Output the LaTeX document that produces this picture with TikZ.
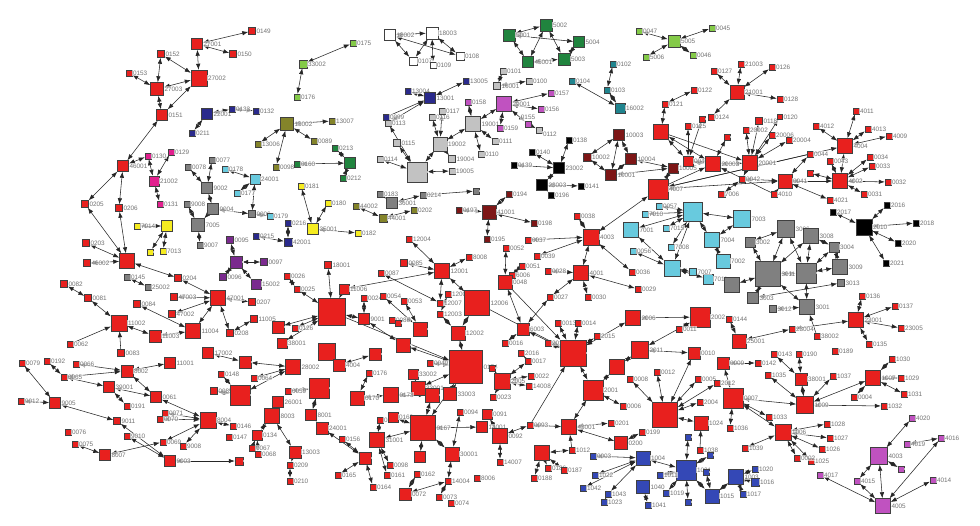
\documentclass[tikz,border=0pt]{standalone}
\usepackage{fontspec}
\setmainfont{Liberation Sans}
\usetikzlibrary{arrows.meta}
\definecolor{rd}{RGB}{232,32,30}
\definecolor{dr}{RGB}{125,22,22}
\definecolor{nv}{RGB}{42,42,140}
\definecolor{bl}{RGB}{52,72,182}
\definecolor{wh}{RGB}{255,255,255}
\definecolor{ol}{RGB}{132,132,42}
\definecolor{dg}{RGB}{32,132,62}
\definecolor{lg}{RGB}{132,202,72}
\definecolor{gy}{RGB}{128,128,128}
\definecolor{lgy}{RGB}{194,194,194}
\definecolor{cy}{RGB}{104,202,222}
\definecolor{yl}{RGB}{246,236,32}
\definecolor{pk}{RGB}{226,32,142}
\definecolor{mg}{RGB}{192,82,192}
\definecolor{pu}{RGB}{122,42,142}
\definecolor{tl}{RGB}{32,132,142}
\definecolor{bk}{RGB}{0,0,0}
\pgfdeclarelayer{bg}
\pgfdeclarelayer{paper}
\pgfsetlayers{paper,bg,main}
\tikzset{
  sq/.style={draw=black!75,line width=0.45pt,inner sep=0pt,minimum size=#1},
  lbl/.style={font=\fontsize{6.4}{7}\selectfont,text=black!55,inner sep=0.6pt,
    fill=white,fill opacity=0.65,text opacity=1},
  bi/.style={line width=0.55pt,black!85,{Latex[length=6pt,width=4.4pt]}-{Latex[length=6pt,width=4.4pt]}},
  one/.style={line width=0.55pt,black!85,-{Latex[length=6pt,width=4.4pt]}},
}
\begin{document}
\begin{tikzpicture}[x=1pt,y=-1pt]
\begin{pgfonlayer}{paper}
\fill[white] (0,0) rectangle (980,525);
\end{pgfonlayer}
\useasboundingbox (0,0) rectangle (980,525);
% ---- nodes: name / x / y / size / colour / label
\foreach \n/\x/\y/\s/\c/\l in {
27001/197/44/11/rd/27001, 0150/233/54/7/rd/0150, 0149/252/31/7/rd/0149,
0152/161/54/7/rd/0152, 27002/199/78/16/rd/27002, 0153/129/73/6/rd/0153,
27003/157/89/13/rd/27003, 0151/162/115/11/rd/0151,
22001/207/114/11/nv/22001, 0133/232/109/6/nv/0133, 0211/192/133/6/nv/0211, 0132/256/111/6/nv/0132,
46001/123/166/11/rd/46001, 0130/148/156/6/pk/0130, 0129/171/152/6/pk/0129,
21002/154/181/10/pk/21002, 0131/160/204/6/pk/0131,
0078/188/167/6/gy/0078, 0077/212/160/6/gy/0077, 0178/225/169/6/cy/0178,
0177/237/193/6/cy/0177, 24001/255/179/10/cy/24001,
9002/207/188/11/gy/9002, 9008/187/204/6/gy/9008, 9004/213/209/11/gy/9004,
7005/198/225/13/gy/7005, 9007/200/245/6/gy/9007, 9006/252/214/7/gy/9006, 0179/270/216/6/cy/0179,
0205/85/204/7/rd/0205, 0206/119/208/7/rd/0206,
7014/137/226/6/yl/7014, y1/167/226/11/yl/, 7013/163/251/6/yl/7013, y2/150/252/6/yl/,
0203/86/243/7/rd/0203, 46002/87/263/7/rd/46002, h1/127/261/15/rd/,
0145/127/277/6/gy/0145, 25002/148/287/6/gy/25002, 0204/178/278/7/rd/0204,
47001/218/298/15/rd/47001, 47003/174/297/7/rd/47003, 0084/137/304/7/rd/0084,
47002/172/314/7/rd/47002, 0082/64/284/7/rd/0082, 0081/88/298/7/rd/0081,
11002/119/323/16/rd/11002, 11003/155/336/12/rd/11003, 11004/193/331/15/rd/11004,
0208/230/333/7/rd/0208, 0062/70/344/6/rd/0062,
0095/230/240/7/pu/0095, 15001/236/262/12/pu/, 0096/223/277/7/pu/0096,
0097/264/262/7/pu/0097, 15002/256/284/10/pu/15002,
0207/252/302/7/rd/0207, 11005/254/319/7/rd/11005,
0175/353/43/6/lg/0175, 33002/303/64/8/lg/33002, 0176/297/97/6/lg/0176,
18002/390/35/11/wh/18002, 18003/432/33/12/wh/18003, 0107/413/61/8/wh/0107,
0109/433/65/6/wh/0109, 0108/460/56/8/wh/0108,
13005/466/81/6/nv/13005, 13004/408/91/6/nv/13004, 13001/430/98/11/nv/13001, 0099/386/117/6/nv/0099,
0113/388/123/6/lgy/0113, 0116/432/117/6/lgy/0116, 0117/442/111/6/lgy/0117,
0158/468/102/6/mg/0158, 19001/473/124/15/lgy/19001,
13002/287/124/13/ol/13002, 13007/332/121/6/ol/13007, 13006/258/144/6/ol/13006,
0089/314/141/6/ol/0089, 0098/276/167/6/ol/0098,
0213/335/148/6/dg/0213, 0160/297/164/6/dg/0160, dg1/350/163/11/dg/, 0212/343/178/6/dg/0212,
0115/397/143/7/lgy/0115, 19002/440/144/14/lgy/19002, 0114/380/159/6/lgy/0114,
19004/452/159/7/lgy/19004, 19005/452/171/6/lgy/19005, 19006/417/172/20/lgy/,
0110/481/154/6/lgy/0110, 0111/495/141/6/lgy/0111,
5001/509/35/12/dg/5001, 5002/546/25/12/dg/5002, 5004/579/42/11/dg/5004,
5003/564/59/12/dg/5003, 45001/528/62/11/dg/45001,
0047/639/31/6/lg/0047, 5005/674/41/12/lg/5005, 0045/712/28/6/lg/0045,
0046/693/55/6/lg/0046, 5006/646/57/6/lg/5006,
0101/503/71/6/lgy/0101, 0100/529/81/6/lgy/0100, 16001/497/86/7/lgy/16001,
0102/613/64/6/tl/0102, 0104/572/81/6/tl/0104, 0103/607/90/6/tl/0103, 16002/620/108/10/tl/16002,
29001/504/104/15/mg/29001, 0157/551/93/6/mg/0157, 0156/541/109/6/mg/0156,
0159/500/128/6/mg/0159,
0138/569/140/6/bk/0138, 0140/532/152/6/bk/0140, 0139/514/165/6/bk/0139, 23002/559/168/11/bk/23002,
10003/619/135/11/dr/10003, 10002/587/157/8/dr/10002, 10004/631/159/11/dr/10004,
10005/673/168/10/dr/10005, 10001/611/175/11/dr/10001,
0127/714/71/6/rd/0127, 0122/694/90/6/rd/0122, 0121/665/104/6/rd/0121, 23006/661/132/15/rd/,
0125/688/126/6/rd/0125, na/702/119/6/rd/, 0124/711/117/6/rd/0124, nb/727/137/6/rd/,
0040/688/161/10/rd/0040, 20003/713/164/15/rd/20003, 20001/750/163/15/rd/20001,
21003/741/64/6/rd/21003, 0126/772/67/6/rd/0126, 21001/737/92/14/rd/21001, 0128/780/99/6/rd/0128,
0118/759/121/7/rd/0118, 0120/780/117/5/rd/0120, 20002/746/130/6/rd/20002,
20006/772/135/6/rd/20006, 20004/789/140/6/rd/20004, 0042/742/179/6/rd/0042,
4011/856/111/6/rd/4011, 4012/816/126/6/rd/4012, 4013/868/129/6/rd/4013, 4009/889/136/6/rd/4009,
0035/845/146/15/rd/4004, 0044/810/154/6/rd/0044, 0034/870/157/6/rd/0034, 0033/872/166/6/rd/0033,
0043/830/161/6/rd/0043, 4002/840/181/15/rd/4002, 4006/810/173/6/rd/,
0041/785/181/14/rd/0041, 0032/888/182/6/rd/0032, 0031/864/194/6/rd/0031,
4021/830/200/6/rd/4021, 4010/774/194/6/rd/4010, nc/722/194/6/rd/,
2017/833/212/6/bk/2017, 2010/864/227/16/bk/2010, 2016/887/205/6/bk/2016,
2018/916/223/6/bk/2018, 2020/898/243/6/bk/2020, 2021/886/263/6/bk/2021,
7003/742/219/17/cy/7003, 7002/723/261/14/cy/7002, 7004/712/240/15/cy/7004, 7011/708/279/10/cy/7011,
3006/786/229/17/gy/3006, 3008/811/236/15/gy/3008, 3002/750/242/10/gy/3002,
3004/834/247/10/gy/3004, 3011/768/274/25/gy/3011, 3007/806/273/20/gy/,
3009/840/267/15/gy/3009, 3005/732/285/15/gy/, 3013/841/283/7/gy/3013,
3003/753/298/11/gy/3003, 3012/773/309/7/gy/3012, 3001/807/307/15/gy/3001,
23001/856/320/15/rd/23001, 0136/862/296/6/rd/0136, 0137/895/306/6/rd/0137,
23005/901/328/6/rd/23005, 0135/869/344/6/rd/0135, 23004/792/329/6/rd/23004,
38002/817/336/6/rd/38002, 0144/729/319/6/rd/0144, 25001/739/341/14/rd/25001,
23003/542/185/11/bk/23003, 0141/581/186/6/bk/0141, 0196/551/195/6/bk/0196,
0194/509/194/6/dr/0194, 41001/489/212/14/dr/41001, 0198/534/223/6/dr/0198,
0195/487/239/6/dr/0195, 0197/459/210/6/dr/0197,
4007/658/189/20/rd/4007, 7006/721/194/6/rd/7006, 0038/577/216/6/rd/0038,
4003/591/237/16/rd/4003, 0037/528/240/6/rd/0037, 0052/506/248/6/rd/0052,
0039/537/256/6/rd/0039, 0051/522/266/6/rd/0051, 6006/512/275/6/rd/6006,
0048/505/282/14/rd/0048, 4001/581/273/15/rd/4001, 0028/548/271/6/rd/0028,
0036/632/272/6/rd/0036, 0029/638/289/6/rd/0029, 0030/588/297/6/rd/0030, 0027/550/297/6/rd/0027,
6003/523/329/12/rd/6003, 0013/558/323/6/rd/0013, 0014/578/323/6/rd/0014,
2006/633/318/15/rd/2006, 2002/700/317/20/rd/2002, 0011/679/329/6/rd/0011,
2015/597/336/6/rd/2015, 2014/548/343/6/rd/2014, 0016/505/343/6/rd/0016,
0057/659/206/6/cy/0057, c7010/645/214/6/cy/7010, 7001/631/230/15/cy/7001,
7000/693/212/19/cy/, c7015/666/228/6/cy/7015, 7008/671/247/6/cy/7008,
7007/693/272/7/cy/7007, 0056/633/251/6/cy/0056, 7009/672/268/16/cy/,
0181/301/186/6/yl/0181, 0180/328/203/6/yl/0180, 35001/313/229/11/yl/35001, 0182/358/233/6/yl/0182,
0216/288/223/6/nv/0216, 42001/288/242/8/nv/42001, 0215/256/236/6/nv/0215,
0183/380/194/6/gy/0183, 36001/392/203/11/gy/36001, 0214/423/195/6/gy/0214, 0184/476/191/6/gy/,
44002/356/206/6/ol/44002, 44001/383/218/8/ol/44001, 0202/414/210/6/ol/0202,
12004/409/239/6/rd/12004, 0085/404/263/7/rd/0085, 12001/442/271/15/rd/12001, 8008/469/257/6/rd/8008,
18001/328/265/7/rd/18001, 0026/287/276/6/rd/0026, 0087/381/273/6/rd/0087,
0025/297/289/6/rd/0025, 0024/364/298/6/rd/0024, 11006/344/289/10/rd/11006,
0054/383/296/6/rd/0054, 0053/404/301/6/rd/0053, 12007/440/303/6/rd/12007,
12005/448/294/6/rd/12005, 12006/477/303/25/rd/12006, 17001/332/312/27/rd/,
r0126/295/328/6/rd/0126, n278/278/327/12/rd/, 38001/282/343/10/rd/38001,
9001/364/319/11/rd/9001, 0086/392/320/6/rd/0086, n398/398/323/6/rd/,
n420/420/329/14/rd/, 12003/440/314/6/rd/12003, 12002/458/333/14/rd/12002, n403/403/345/14/rd/,
0079/22/363/6/rd/0079, 0192/47/361/6/rd/0192, 0066/76/364/6/rd/0066, 0065/64/377/6/rd/0065,
8002/127/371/12/rd/8002, 0083/121/353/7/rd/0083, 11001/170/363/11/rd/11001,
17002/208/353/11/rd/17002, 39001/109/387/11/rd/39001, 0191/127/406/6/rd/0191,
0061/156/397/11/rd/0061, 9012/21/401/6/rd/9012, 9005/55/403/11/rd/9005,
9011/117/421/7/rd/9011, 0071/165/413/6/rd/0071, 0070/160/419/6/rd/0070,
8004/208/420/16/rd/8004, 0148/221/374/6/rd/0148, 0085b/214/391/7/rd/0085, nb240/240/395/20/rd/,
0146/233/426/6/rd/0146, 0147/229/437/6/rd/0147,
0076/68/432/6/rd/0076, 0075/75/444/6/rd/0075, 8007/105/455/11/rd/8007,
9010/127/436/6/rd/9010, 0069/163/442/6/rd/0069, r9008/183/446/6/rd/9008,
9003/170/461/11/rd/9003, n239/239/461/8/rd/,
28002/293/367/15/rd/28002, 0064/254/378/6/rd/0064, n327/327/352/17/rd/,
4004/339/365/12/rd/4004, 31003/375/354/12/rd/, 0049/430/363/6/rd/0049,
r33002/413/374/10/rd/33002, 33001/418/388/14/rd/33001, 0174/466/367/33/rd/0174,
28001/319/388/20/rd/, 0059/288/391/6/rd/0059, r0176/369/373/6/rd/0176,
0170/357/398/14/rd/0170, 0173/391/395/15/rd/0173, 31002/432/395/14/rd/,
33003/450/394/13/rd/33003, 26001/278/402/11/rd/26001, 8003/272/416/15/rd/8003,
8001/311/415/11/rd/8001, r24001/322/428/12/rd/24001,
0169/380/420/6/rd/0169, 0168/393/417/10/rd/0168, 0167/423/428/25/rd/0167, 0094/460/412/6/rd/0094,
31001/377/440/15/rd/31001, r0156/342/439/6/rd/0156, 13003/295/452/12/rd/13003,
0209/290/465/6/rd/0209, 0210/290/481/6/rd/0210, n365/365/458/12/rd/,
30001/452/454/14/rd/30001, r0095/420/457/11/rd/, 14001/482/427/11/rd/14001,
r0098/390/465/6/rd/0098, 0161/387/475/6/rd/0161, 0162/417/474/6/rd/0162,
0165/338/475/6/rd/0165, 0164/373/487/6/rd/0164, 0072/405/494/12/rd/0072,
14004/448/481/6/rd/14004, 14005/439/497/6/rd/0073, 0073/451/503/6/rd/0074, 8006/477/478/6/rd/8006,
n257/257/435/10/rd/0134, 0067/252/448/6/rd/0067, 0068/258/454/6/rd/0068, n245/245/362/12/rd/,
r2016/521/353/6/rd/2016, 0017/528/361/6/rd/0017, 0018/492/368/6/rd/, 2005/502/381/16/rd/2005,
0022/531/376/6/rd/0022, 14008/529/386/6/rd/14008, 0023/493/397/6/rd/0023,
0091/487/414/10/rd/0091, 0092/500/436/15/rd/0092, 14007/500/462/6/rd/14007, 0093/530/425/6/rd/0093,
0001/573/353/26/rd/, 2011/640/350/17/rd/2011, 2013/617/367/15/rd/, 2001/593/390/20/rd/2001,
0006/623/406/6/rd/0006, 0012/657/372/6/rd/0012, 0008/630/379/6/rd/0008,
0010/694/353/12/rd/0010, r0005/698/379/6/rd/0005, 2012/717/383/6/rd/2012,
n665/665/415/25/rd/, 2004/700/402/6/rd/2004,
43001/569/427/15/rd/43001, 0201/611/423/6/rd/0201, 0200/621/443/13/rd/0200, 0199/642/432/6/rd/0199,
37001/572/450/6/rd/1012, 14002/542/453/15/rd/, 0186/548/468/6/rd/0186,
0188/534/478/6/rd/0188, 0187/564/470/6/rd/0187,
1024/701/423/14/rd/1024, 1038/700/450/6/rd/1038,
0003/593/456/6/bl/0003, 1004/643/458/14/bl/1004, 1021/686/470/20/bl/1021,
1022/595/475/6/bl/1022, 1011/660/475/6/bl/1011, 1040/643/487/13/bl/1040,
1042/583/488/6/bl/1042, 1043/608/494/6/bl/1043, 1023/604/502/6/bl/1023,
1041/648/505/6/bl/1041, 1019/666/493/6/bl/1019, 1015/712/496/14/bl/1015,
b1/688/437/6/bl/, b2/710/455/6/bl/, b3/706/472/6/bl/, b4/688/502/6/bl/,
0009/723/363/12/rd/0009, 0143/774/354/6/rd/0143, 0142/758/363/6/rd/0142,
0190/799/354/6/rd/0190, 0189/835/351/6/rd/0189, 1035/768/375/6/rd/1035,
r38001/801/379/12/rd/38001, 1037/833/376/6/rd/1037, 1030/892/359/6/rd/1030,
1007/873/378/15/rd/1007, 1029/901/378/6/rd/1029, 1031/904/394/6/rd/1031,
0007/733/398/20/rd/0007, 1009/805/405/17/rd/1009, 0004/854/397/6/rd/0004,
1032/884/406/6/rd/1032, 1033/769/417/6/rd/1033, 1036/730/428/6/rd/1036,
1006/783/432/16/rd/1006, 1028/827/424/6/rd/1028, 1027/830/438/6/rd/1027,
1026/822/449/6/rd/1026, 1025/811/461/6/rd/1025, 0002/797/458/6/rd/0002, 1039/745/448/6/rd/1039,
4020/912/418/6/mg/4020, 4016/941/438/6/mg/4016, 4019/907/444/6/mg/4019,
p4003/879/456/17/mg/4003, p901/901/469/6/mg/, 4017/820/475/6/mg/4017,
4015/857/481/6/mg/4015, 4014/933/480/6/mg/4014, 4005/883/506/15/mg/4005,
1003/736/477/15/bl/1003, 1020/755/469/6/bl/1020, 1016/755/482/8/bl/1016, 1017/743/494/6/bl/1017}
  \node[sq=\s pt,fill=\c,label={[lbl]0:\l}] (\n) at (\x,\y) {};
% two close neighbours carry their labels on other sides
\node[sq=6pt,fill=mg,label={[lbl]90:0155}] (0155) at (528,124) {};
\node[sq=6pt,fill=lgy,label={[lbl]-20:0112}] (0112) at (539,130) {};
% ---- connectors
\begin{pgfonlayer}{bg}
\foreach \a/\b in {
27001/0150, 27001/0149, 27001/27002, 27002/0152, 27002/27003, 0152/27003, 0153/27003,
27003/0151, 0151/27002, 0151/46001, 22001/0133, 22001/0211, 0133/0132,
46001/0130, 0130/21002, 0129/21002, 21002/0131, 0078/9002, 0077/9002,
0178/24001, 0177/24001, 24001/9006, 9006/0179, 9002/9004, 9008/7005, 9004/7005,
7005/9007, 9004/9006, 7014/y1, y1/7013, y1/y2,
46001/0205, 46001/0206, 0205/h1, 0206/h1, 0203/h1, 46002/h1, h1/0204, 0145/25002,
0204/47001, 47003/47001, 0084/11004, 47002/47001, 0082/0081, 0081/11002,
11002/11003, 11003/11004, 11004/47001, 47001/0208, 0095/15001, 15001/0097,
15001/15002, 0096/15001, 0207/47001, 11005/0208,
0175/33002, 33002/0176,
18002/18003, 18002/0107, 18003/0107, 18003/0109, 18003/0108, 18002/0108,
13005/13001, 13004/13001, 13001/0113,
13002/13007, 13002/13006, 13002/0089, 13002/0098, 0213/dg1, 0160/dg1, dg1/0212,
19006/0115, 19006/19002, 19006/0114, 19006/19005, 19002/0116, 19002/0117,
19002/19004, 19001/0111, 19001/0110, 19001/0158, 0113/19006, 19001/19002,
5001/5002, 5001/45001, 5002/5003, 5002/45001, 5004/5003, 5004/5001, 45001/5003,
0047/5005, 0045/5005, 5005/0046, 5006/5005,
0101/16001, 16001/0100, 0103/0102, 0104/16002, 0103/16002,
29001/0157, 29001/0156, 29001/0159, 29001/0155, 0155/0112, 19001/29001,
0138/23002, 0140/23002, 0139/23002, 23002/23003, 23003/0141, 23003/0196,
10003/10002, 10003/10004, 10003/10001, 10002/10001, 10004/10005, 10001/10005,
10005/4007, 10004/10001,
0127/21001, 0122/0121, 0121/23006, 23006/0040, 0125/0040, na/0040, 0124/21001,
nb/20003, 23006/20003, 0040/20003,
21003/21001, 0126/21001, 21001/0128, 20001/0118, 20001/0120, 20001/20002,
20001/20006, 20001/20004, 20001/0042, 20003/20001,
4011/0035, 4012/0035, 4013/0035, 4009/0035, 0044/0041, 0043/4002, 0034/4002,
0033/4002, 4006/4002, 0041/4002, 0032/4002, 0031/4002, 4021/0041, 4010/0041,
0042/0041, nc/0042, 4007/0041, 0035/4002,
2017/2010, 2010/2016, 2010/2018, 2010/2020, 2010/2021,
7003/7004, 7004/7002, 7000/7003,
3006/3011, 3008/3011, 3002/3011, 3004/3007, 3006/3007, 3008/3007, 3011/3007,
3009/3007, 3005/3011, 3003/3011, 3012/3001, 3001/3011, 3001/3007, 3003/3013,
3008/3004, 3009/3004, 3002/3006,
23001/0136, 23001/0137, 23001/23005, 23001/0135, 23004/23001, 25001/0144, 25001/23004,
41001/0194, 41001/0198, 41001/0195, 41001/0197,
4003/4007, 4003/0038, 4003/0037, 4003/0039, 4003/0036, 4001/4003, 4001/0028,
4001/0027, 4001/0030, 4001/0029, 0052/0048, 6006/0048, 0048/6003, 0027/6003,
6003/0016, 6003/0001, 0013/0001, 0014/0001, 2014/0001, 2015/0001, 2006/0001,
2006/2002, 2002/0011, 2002/2011,
0057/7000, c7010/7000, 7001/7009, c7015/7000, 7008/7000, 0056/7009, 7007/7009,
7000/7004, 7000/7009, 7001/7000, 7009/7011,
0181/35001, 0180/35001, 35001/0182, 0216/42001, 0215/42001,
0183/36001, 36001/0214, 44002/44001, 44001/0202,
12004/12001, 0085/12001, 12001/8008, 12001/11006, 0087/12007, 12001/12006,
12007/12001, 18001/17001, 0026/0025, 0025/17001, 11006/17001, 0054/n420,
0053/n420, 12005/12003, 12006/12002, 12003/12002, 17001/n278, 17001/9001,
9001/n403, 0024/9001, r0126/17001, 38001/17001,
0079/9005, 9012/9005, 0192/0065, 0066/8002, 0065/8002, 0065/39001, 8002/0061,
39001/0061, 39001/0191, 9005/9011, 9011/9003, 9010/9003, 0071/8004, 0070/8004,
0061/8004, 0069/8004, r9008/8004, 0075/8007, 8007/0069, 9003/n239, 0146/8004,
0148/nb240, 0085b/nb240, 11001/8002,
28002/0064, 28002/nb240, 8003/26001, 8003/13003, 13003/0209, 0209/0210, 8003/n257,
n365/0165, n365/0164, n365/r0156, 31001/0169, 31001/0161, 0167/31001, 0167/0168,
0167/30001, 0167/0174, 0167/31002, 0167/14001, 30001/14004, 30001/0094,
0072/14004, 0072/0162, 14005/14004, 0173/0170, 0174/33001, 33001/r33002,
0174/12002, 0174/0049, 0173/31002, 28001/8001, 8001/r24001, r24001/n365,
28001/0059, 0170/r0176, 33003/0174, r0095/0167, r0098/31001, 0067/n257,
0068/n257, n245/28002, n327/4004, 31003/4004, n403/0174, 17002/n245,
0001/2001, 2001/43001, 43001/0093, 43001/0201, 43001/0200, 0200/0199, 2001/0006,
2001/2013, 2013/2011, 2011/0010, 0010/n665, n665/0012, n665/0008, n665/2004,
n665/1024, n665/r0005, n665/2012, 0009/0007, 0007/1033, 0007/1036, 0007/1009,
1009/r38001, r38001/0190, r38001/0143, 1009/1037, 1009/1032, 1007/1030,
1007/1029, 1007/1031, 1007/1009, 0004/1007, 1006/1028, 1006/1027, 1006/1026,
1006/1025, 1006/0002, 1006/1039, 0007/1006, 1035/1009, 0142/0009,
0003/1004, 1022/1004, 1004/1021, 1011/1021, 1040/1041, 1042/1004, 1043/1004,
1019/1021, 1021/1015, b1/1021, 1021/b2, b3/1015, 1003/1020, 1003/1016,
1003/1017, 1015/1003, 1023/1043, b4/1021,
4020/p4003, 4019/4016, p4003/p901, 4015/p4003, 4005/4015, 4005/4017,
4005/p4003, 4005/4016, 4005/4014,
14002/37001, 14002/0186, 14002/0188, 0187/14002, 0092/0091, 0092/14007,
0092/0093, 2005/0022, 2005/14008, 2005/0023, 2005/0018, 2005/0017, 0017/r2016}
  \draw[bi] (\a) -- (\b);
\foreach \a/\b in {
0214/0184, 12006/0001, 17001/0174, 0048/0001, 4007/20003, 4007/0035,
23006/20001, 0044/4007, 0099/13001, 0083/11002, 0062/11002, 4010/20003,
38002/3001, 1038/1024, 37001/43001, 0093/0001}
  \draw[one] (\a) -- (\b);
\end{pgfonlayer}
\end{tikzpicture}
\end{document}
